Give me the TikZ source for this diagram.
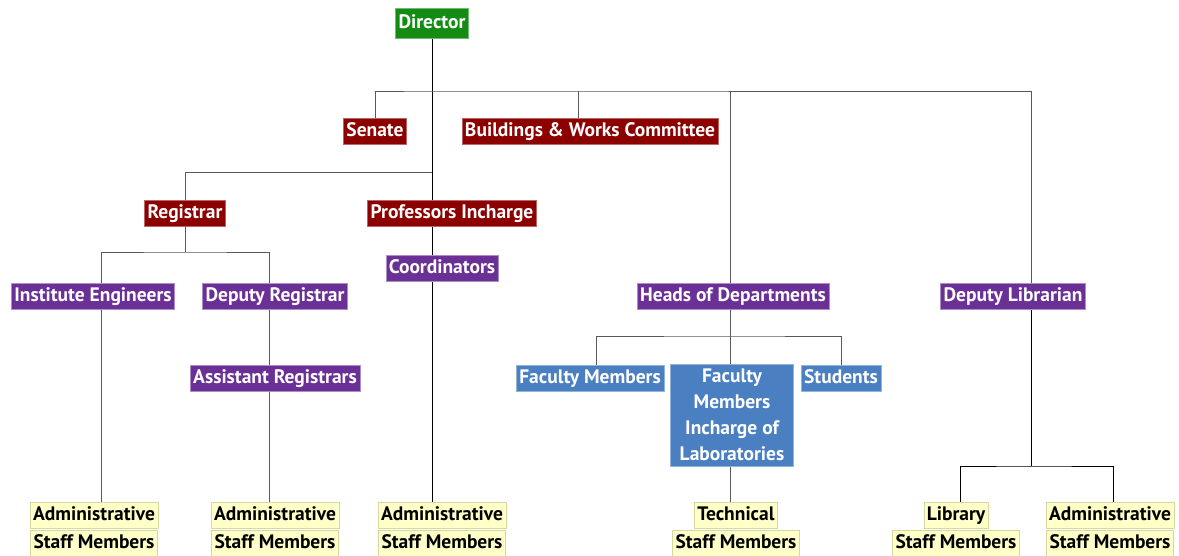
\documentclass[tikz,border=0pt]{standalone}
\usepackage{fontspec}
\setmainfont{PT Sans}
\usepackage{xcolor}
\usetikzlibrary{positioning,backgrounds}

\definecolor{dirgreen}{RGB}{20,140,20}
\definecolor{boardred}{RGB}{140,0,0}
\definecolor{officeviolet}{RGB}{106,48,150}
\definecolor{deptblue}{RGB}{74,128,194}
\definecolor{staffyellow}{RGB}{255,255,200}
\definecolor{staffedge}{RGB}{215,215,160}

\begin{document}
\begin{tikzpicture}[x=1pt, y=-1pt,
  font=\fontsize{19.5}{26}\selectfont\bfseries, node distance=2pt,
  unit/.style={inner xsep=3pt, inner ysep=0pt, text height=14.5pt, text depth=4.5pt, minimum height=26pt, text=white},
  top/.style={unit, fill=dirgreen, draw=dirgreen!60, minimum height=30pt},
  board/.style={unit, fill=boardred, draw=boardred!60},
  office/.style={unit, fill=officeviolet, draw=officeviolet!55},
  dept/.style={unit, fill=deptblue, draw=deptblue!60},
  staff/.style={unit, fill=staffyellow, draw=staffedge, text=black},
  link/.style={draw=gray!70!black, line width=0.8pt},
  trunk/.style={draw=black, line width=1pt}]
  \useasboundingbox (0,0) rectangle (1179,555);

  % governing bodies
  \node[top] (dir) at (432,23) {Director};
  \node[board] (senate) at (375,131) {Senate};
  \node[board] (bwc) at (590,131) {Buildings \& Works Committee};
  \node[board] (reg) at (185,213) {Registrar};
  \node[board] (prof) at (452,213) {Professors Incharge};

  % offices
  \node[office] (coord) at (442,268) {Coordinators};
  \node[office] (eng) at (93,296) {Institute Engineers};
  \node[office] (dreg) at (275,296) {Deputy Registrar};
  \node[office] (areg) at (275,378) {Assistant Registrars};
  \node[office] (hod) at (733,296) {Heads of Departments};
  \node[office] (dlib) at (1013,296) {Deputy Librarian};

  % departments
  \node[fill=deptblue, draw=deptblue!60, text=white, align=center, inner xsep=4pt, inner ysep=5pt,
        minimum width=123pt] (lab) at (732,415) {Faculty\\Members\\Incharge of\\Laboratories};
  \node[dept] (fac) at (590,378) {Faculty Members};
  \node[dept] (stu) at (841,378) {Students};

  % staff
  \node[staff] (adm1) at (94,515) {Administrative};
  \node[staff, below=of adm1] (adm1s) {Staff Members};
  \node[staff] (adm2) at (275,515) {Administrative};
  \node[staff, below=of adm2] (adm2s) {Staff Members};
  \node[staff] (adm3) at (442,515) {Administrative};
  \node[staff, below=of adm3] (adm3s) {Staff Members};
  \node[staff] (tech) at (736,515) {Technical};
  \node[staff, below=of tech] (techs) {Staff Members};
  \node[staff] (lib) at (956,515) {Library};
  \node[staff, below=of lib] (libs) {Staff Members};
  \node[staff] (adm4) at (1110,515) {Administrative};
  \node[staff, below=of adm4] (adm4s) {Staff Members};

  % bracket levels
  \coordinate (topbar) at (432,91);
  \coordinate (regbar) at (432,172);
  \coordinate (engbar) at (185,252);
  \coordinate (hodbar) at (730,336);
  \coordinate (libbar) at (1031,466);

  \begin{scope}[on background layer]
    \draw[trunk] (dir.south) -- (dir.south |- adm3.north);
    \draw[link] (senate.north) |- (topbar) -| ([xshift=18pt]dlib.north);
    \draw[link] ([xshift=-12pt]bwc.north) -- ([xshift=-12pt]bwc.north |- topbar);
    \draw[link] ([xshift=-3pt]hod.north) -- ([xshift=-3pt]hod.north |- topbar);
    \draw[link] (reg.north) |- (regbar);
    \draw[link] (reg.south) -- (engbar);
    \draw[link] ([xshift=8pt]eng.north) |- (engbar) -| ([xshift=-6pt]dreg.north);
    \draw[link] ([xshift=8pt]eng.south) -- ([xshift=8pt]eng.south |- adm1.north);
    \draw[link] ([xshift=-6pt]dreg.south) -- ([xshift=-6pt]dreg.south |- adm2.north);
    \draw[link] ([xshift=-3pt]hod.south) -- ([xshift=-3pt]hod.south |- lab.north);
    \draw[link] ([xshift=6pt]fac.north) |- (hodbar) -| (stu.north);
    \draw[link] ([xshift=-2pt]lab.south) -- ([xshift=-2pt]lab.south |- tech.north);
    \draw[trunk] ([xshift=18pt]dlib.south) -- (libbar);
    \draw[trunk] ([xshift=4pt]lib.north) |- (libbar) -| ([xshift=3pt]adm4.north);
  \end{scope}
\end{tikzpicture}
\end{document}
